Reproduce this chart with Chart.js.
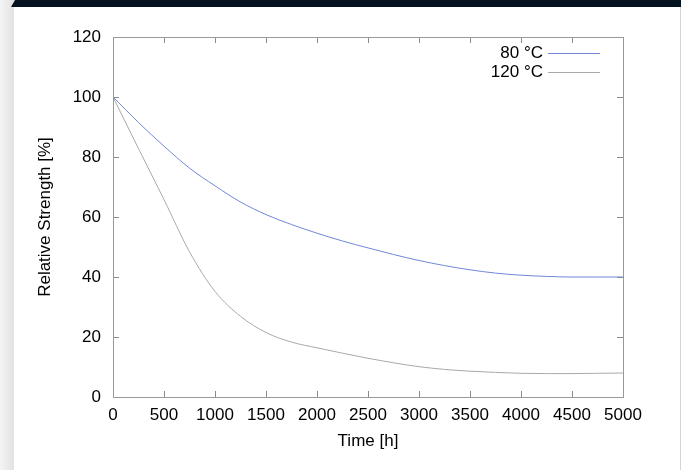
<!DOCTYPE html>
<html>
<head>
<meta charset="utf-8">
<script src="https://cdn.jsdelivr.net/npm/chart.js@4.4.1/dist/chart.umd.min.js"></script>
<style>
  html, body { margin: 0; padding: 0; }
  body { width: 681px; height: 470px; overflow: hidden; position: relative; background: #ececec; }
  .shade { position: absolute; left: 0; top: 0; width: 14px; height: 470px; background: linear-gradient(to right, #f4f4f4, #e2e2e2); }
  .panel { position: absolute; left: 14px; top: 7px; width: 666px; height: 463px; background: #fff; }
  .edge { position: absolute; left: 680px; top: 0; width: 1px; height: 470px; background: #d4d4d4; }
  .bar { position: absolute; left: 11px; top: 0; width: 670px; height: 7px; background: #04131f; clip-path: polygon(4px 0, 100% 0, 100% 100%, 0 100%); }
  #myChart { position: absolute; left: 0; top: 0; }
</style>
</head>
<body>
<div class="shade"></div>
<div class="panel"></div>
<div class="edge"></div>
<div class="bar"></div>
<canvas id="myChart" width="681" height="470"></canvas>

<script>
// time axis (hours)
const hours = [0, 250, 500, 750, 1000, 1250, 1500, 1750, 2000, 2250, 2500,
               2750, 3000, 3250, 3500, 3750, 4000, 4250, 4500, 4750, 5000];

// relative strength [%]
const strength80 = [100, 91.5, 83.6, 76.3, 70.4, 65.0, 60.8, 57.5, 54.6, 52.0, 49.7,
                    47.5, 45.5, 43.8, 42.4, 41.3, 40.6, 40.2, 40.0, 40.0, 40.0];
const strength120 = [100, 82.8, 65.8, 48.4, 35.2, 26.9, 21.5, 18.3, 16.4, 14.6, 12.9,
                     11.4, 10.1, 9.2, 8.6, 8.2, 7.9, 7.8, 7.8, 7.9, 8.0];

const seriesLabels = ['80 \u00b0C', '120 \u00b0C'];
const seriesColors = ['#7187d6', '#a9a9a9'];

const fontFamily = '"Liberation Sans", Arial, sans-serif';
const fontSize = 17;

function toPoints(ys) {
    return hours.map((h, i) => ({ x: h, y: ys[i] }));
}

// gnuplot style box with inward ticks on all four sides
const frame = {
    id: 'frame',
    afterDatasetsDraw(chart) {
        const { ctx, chartArea: a, scales: { x, y } } = chart;
        ctx.save();
        ctx.strokeStyle = '#8c8c8c';
        ctx.lineWidth = 1;
        ctx.beginPath();
        x.ticks.forEach(t => {
            if (t.value === x.min || t.value === x.max) return;
            const px = Math.round(x.getPixelForValue(t.value)) + 0.5;
            ctx.moveTo(px, a.bottom); ctx.lineTo(px, a.bottom - 6);
            ctx.moveTo(px, a.top); ctx.lineTo(px, a.top + 6);
        });
        y.ticks.forEach(t => {
            if (t.value === y.min || t.value === y.max) return;
            const py = Math.round(y.getPixelForValue(t.value)) + 0.5;
            ctx.moveTo(a.left, py); ctx.lineTo(a.left + 6, py);
            ctx.moveTo(a.right, py); ctx.lineTo(a.right - 6, py);
        });
        ctx.stroke();
        ctx.strokeStyle = '#999';
        ctx.strokeRect(Math.round(a.left) + 0.5, Math.round(a.top) + 0.5,
                       Math.round(a.width), Math.round(a.height));
        ctx.restore();
    }
};

// legend in the top right corner: text first, then the line sample
const keyBox = {
    id: 'keyBox',
    afterDraw(chart) {
        const { ctx, chartArea: a } = chart;
        ctx.save();
        ctx.font = fontSize + 'px ' + fontFamily;
        ctx.textAlign = 'right';
        ctx.textBaseline = 'middle';
        chart.data.datasets.forEach((ds, i) => {
            const yy = a.top + 16 + i * 19;
            ctx.fillStyle = '#000';
            ctx.fillText(ds.label, a.right - 80, yy);
            ctx.strokeStyle = ds.borderColor;
            ctx.lineWidth = 1;
            ctx.beginPath();
            ctx.moveTo(a.right - 75, Math.round(yy) + 0.5);
            ctx.lineTo(a.right - 23, Math.round(yy) + 0.5);
            ctx.stroke();
        });
        ctx.restore();
    }
};

const chartCtx = document.getElementById('myChart').getContext('2d');
const strengthChart = new Chart(chartCtx, {
    type: 'line',
    data: {
        datasets: [
            { label: seriesLabels[0], data: toPoints(strength80), borderColor: seriesColors[0] },
            { label: seriesLabels[1], data: toPoints(strength120), borderColor: seriesColors[1] }
        ]
    },
    options: {
        responsive: false,
        animation: false,
        layout: { padding: { left: 0, top: 37, right: 58, bottom: 0 } },
        elements: {
            line: { borderWidth: 1, cubicInterpolationMode: 'monotone', fill: false },
            point: { radius: 0 }
        },
        plugins: {
            legend: { display: false },
            tooltip: { enabled: false }
        },
        scales: {
            x: {
                type: 'linear',
                min: 0,
                max: 5000,
                grid: { display: false, drawTicks: false },
                border: { display: false },
                ticks: { stepSize: 500, padding: 8, maxRotation: 0, autoSkip: false,
                         color: '#000', font: { family: fontFamily, size: fontSize },
                         callback: v => String(v) },
                title: { display: true, text: 'Time [h]', color: '#000',
                         font: { family: fontFamily, size: fontSize }, padding: { top: 0, bottom: 18 } },
                afterFit: s => { s.height = 73; }
            },
            y: {
                min: 0,
                max: 120,
                grid: { display: false, drawTicks: false },
                border: { display: false },
                ticks: { stepSize: 20, padding: 12, color: '#000',
                         font: { family: fontFamily, size: fontSize } },
                title: { display: true, text: 'Relative Strength [%]', color: '#000',
                         font: { family: fontFamily, size: fontSize }, padding: { top: 35, bottom: 0 } },
                afterFit: s => { s.width = 113; }
            }
        }
    },
    plugins: [frame, keyBox]
});
</script>
</body>
</html>
